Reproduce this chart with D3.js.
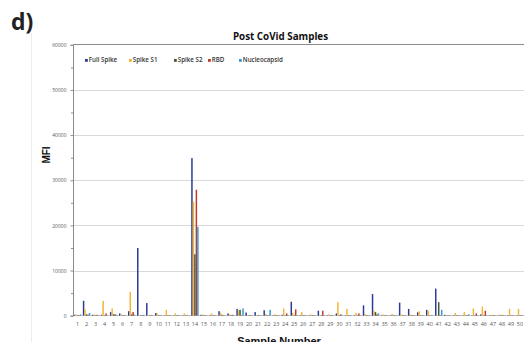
<!doctype html>
<html lang="en">
  <head>
    <meta charset="UTF-8" />
    <title>Post CoVid Samples</title>
    <script src="https://d3js.org/d3.v7.min.js"></script>
    <style>
      body {
        margin: 0;
        background: #fff;
        font-family: 'Open Sans', 'DejaVu Sans', sans-serif;
      }
      .grid line {
        stroke: #d9d9d9;
        shape-rendering: crispEdges;
      }
      .tick-label {
        fill: #595959;
      }
    </style>
  </head>
  <body>
    <svg id="chart" width="524" height="342"></svg>
    <script>
      // categories
      const samples = [
        '1', '2', '3', '4', '5', '6', '7', '8', '9', '10',
        '11', '12', '13', '14', '15', '16', '17', '18', '19', '20',
        '21', '22', '23', '24', '25', '26', '27', '28', '29', '30',
        '31', '32', '33', '34', '35', '36', '37', '38', '39', '40',
        '41', '42', '43', '44', '45', '46', '47', '48', '49', '50',
      ]

      const seriesNames = ['Full Spike', 'Spike S1', 'Spike S2', 'RBD', 'Nucleocapsid']

      // MFI per sample
      const fullSpike = [
        200, 3300, 200, 200, 800, 500, 1000, 15000, 2800, 600,
        100, 100, 100, 34900, 200, 100, 1000, 500, 1500, 700,
        800, 1200, 100, 200, 3100, 100, 100, 1100, 100, 500,
        100, 100, 2300, 4800, 100, 100, 2900, 1500, 750, 1300,
        6000, 200, 100, 100, 100, 300, 100, 100, 100, 100,
      ]
      const spikeS1 = [
        300, 1400, 300, 3300, 1600, 300, 5300, 100, 200, 400,
        1300, 500, 500, 25300, 300, 500, 700, 300, 1200, 100,
        100, 400, 300, 1600, 600, 800, 300, 100, 300, 3000,
        1500, 600, 400, 1100, 300, 400, 300, 300, 1000, 1100,
        100, 100, 600, 800, 1600, 2000, 200, 300, 1500, 1500,
      ]
      const spikeS2 = [
        100, 300, 100, 100, 300, 100, 300, 100, 100, 100,
        100, 100, 100, 13600, 100, 100, 200, 100, 1300, 100,
        100, 100, 100, 100, 100, 100, 100, 100, 100, 100,
        100, 100, 100, 800, 100, 100, 100, 100, 100, 100,
        3000, 100, 100, 100, 100, 100, 100, 100, 100, 100,
      ]
      const rbd = [
        100, 200, 200, 500, 300, 100, 800, 100, 100, 100,
        100, 100, 100, 27900, 100, 100, 100, 200, 100, 100,
        100, 100, 100, 500, 1400, 100, 100, 1100, 100, 300,
        100, 500, 100, 300, 100, 100, 100, 100, 100, 100,
        100, 100, 100, 100, 500, 1100, 100, 100, 100, 100,
      ]
      const nucleocapsid = [
        300, 600, 100, 100, 200, 100, 200, 200, 100, 100,
        100, 100, 100, 19700, 100, 100, 100, 100, 1600, 100,
        100, 1300, 100, 100, 100, 100, 100, 100, 100, 100,
        100, 100, 100, 500, 100, 100, 100, 100, 100, 100,
        1300, 100, 100, 300, 100, 100, 100, 100, 100, 100,
      ]

      const yTicks = [0, 10000, 20000, 30000, 40000, 50000, 60000]
      const yMinorTicks = [5000, 15000, 25000, 35000, 45000, 55000]

      const colors = ['#2b3a94', '#f4b534', '#44573a', '#c0392b', '#2e9bd6']
      const seriesValues = [fullSpike, spikeS1, spikeS2, rbd, nucleocapsid]

      const rows = samples.map((s, i) => ({
        sample: s,
        values: seriesNames.map((name, k) => ({ name, value: seriesValues[k][i] })),
      }))

      const svg = d3.select('#chart')
      const plotLeft = 73
      const plotRight = 524.5
      const plotTop = 44.8
      const plotBottom = 315.7

      const x = d3.scaleBand().domain(samples).range([plotLeft, plotRight]).padding(0)
      const xs = d3
        .scaleBand()
        .domain(seriesNames)
        .range([0, x.bandwidth()])
        .paddingOuter(0.55)
        .paddingInner(0)
      const y = d3.scaleLinear().domain([0, 60000]).range([plotBottom, plotTop])

      // faint panel divider on the left
      svg.append('line')
        .attr('x1', 31.5).attr('x2', 31.5)
        .attr('y1', 33).attr('y2', 342)
        .attr('stroke', '#ececec')

      // panel letter
      svg.append('text')
        .attr('x', 11)
        .attr('y', 30)
        .style('font-family', "'Open Sans', sans-serif")
        .style('font-weight', 700)
        .style('font-size', '23px')
        .attr('fill', '#222')
        .text('d)')

      // gridlines
      svg.append('g')
        .attr('class', 'grid')
        .attr('transform', `translate(${plotLeft},0)`)
        .call(d3.axisLeft(y).tickValues(yTicks.slice(1, -1)).tickSize(-(plotRight - plotLeft)).tickFormat(''))
        .call((g) => g.select('.domain').remove())

      // top border
      svg.append('line')
        .attr('x1', plotLeft).attr('x2', plotRight)
        .attr('y1', y(60000)).attr('y2', y(60000))
        .attr('stroke', '#8c8c8c')
        .attr('stroke-width', 1)
        .attr('shape-rendering', 'crispEdges')

      // x baseline
      svg.append('line')
        .attr('x1', plotLeft).attr('x2', plotRight)
        .attr('y1', y(0)).attr('y2', y(0))
        .attr('stroke', '#d0d0d0')
        .attr('shape-rendering', 'crispEdges')

      // y axis
      const yAxis = svg.append('g')
        .attr('transform', `translate(${plotLeft},0)`)
        .call(d3.axisLeft(y).tickValues(yTicks).tickSize(2.5).tickPadding(4).tickFormat((d) => d))
      yAxis.select('.domain').attr('stroke', '#8c8c8c')
      yAxis.selectAll('.tick line').attr('stroke', '#8c8c8c')
      yAxis.selectAll('text')
        .attr('class', 'tick-label')
        .style('font-size', '5px')
        .style('font-family', "'Open Sans', sans-serif")

      svg.append('g')
        .attr('transform', `translate(${plotLeft},0)`)
        .call(d3.axisLeft(y).tickValues(yMinorTicks).tickSize(2).tickFormat(''))
        .call((g) => g.select('.domain').remove())
        .selectAll('line')
        .attr('stroke', '#8c8c8c')

      // x axis labels
      const xAxis = svg.append('g')
        .attr('transform', `translate(0,${plotBottom})`)
        .call(d3.axisBottom(x).tickSize(0).tickPadding(6))
      xAxis.select('.domain').remove()
      xAxis.selectAll('text')
        .attr('class', 'tick-label')
        .style('font-size', '5.5px')
        .style('font-family', "'Open Sans', sans-serif")

      // bars
      const groups = svg.selectAll('.sample')
        .data(rows)
        .enter()
        .append('g')
        .attr('class', 'sample')
        .attr('transform', (d) => `translate(${x(d.sample)},0)`)

      groups.selectAll('rect')
        .data((d) => d.values)
        .enter()
        .append('rect')
        .attr('x', (d) => xs(d.name))
        .attr('y', (d) => y(d.value))
        .attr('width', xs.bandwidth())
        .attr('height', (d) => y(0) - y(d.value))
        .attr('fill', (d, i) => colors[i])

      // title
      svg.append('text')
        .attr('x', 280.5)
        .attr('y', 39.5)
        .attr('text-anchor', 'middle')
        .style('font-weight', 700)
        .style('font-size', '9.8px')
        .attr('fill', '#111')
        .text('Post CoVid Samples')

      // y label
      svg.append('text')
        .attr('transform', 'translate(50,155) rotate(-90)')
        .attr('text-anchor', 'middle')
        .style('font-family', "'Liberation Sans', Arial, sans-serif")
        .style('font-weight', 700)
        .style('font-size', '10px')
        .attr('fill', '#111')
        .text('MFI')

      // x label (partly cut by the bottom edge, as in the source figure)
      svg.append('text')
        .attr('x', 279)
        .attr('y', 345)
        .attr('text-anchor', 'middle')
        .style('font-family', "'Liberation Sans', Arial, sans-serif")
        .style('font-weight', 700)
        .style('font-size', '11px')
        .attr('fill', '#111')
        .text('Sample Number')

      // legend
      const legendX = [85, 129, 174, 208, 239]
      const legend = svg.selectAll('.legend')
        .data(seriesNames)
        .enter()
        .append('g')
        .attr('transform', (d, i) => `translate(${legendX[i]},59)`)
      legend.append('rect')
        .attr('width', 2.8)
        .attr('height', 2.8)
        .attr('fill', (d, i) => colors[i])
      legend.append('text')
        .attr('x', 3.8)
        .attr('y', 2.9)
        .style('font-size', '6.2px')
        .style('font-weight', 600)
        .attr('fill', '#333')
        .text((d) => d)
    </script>
  </body>
</html>
